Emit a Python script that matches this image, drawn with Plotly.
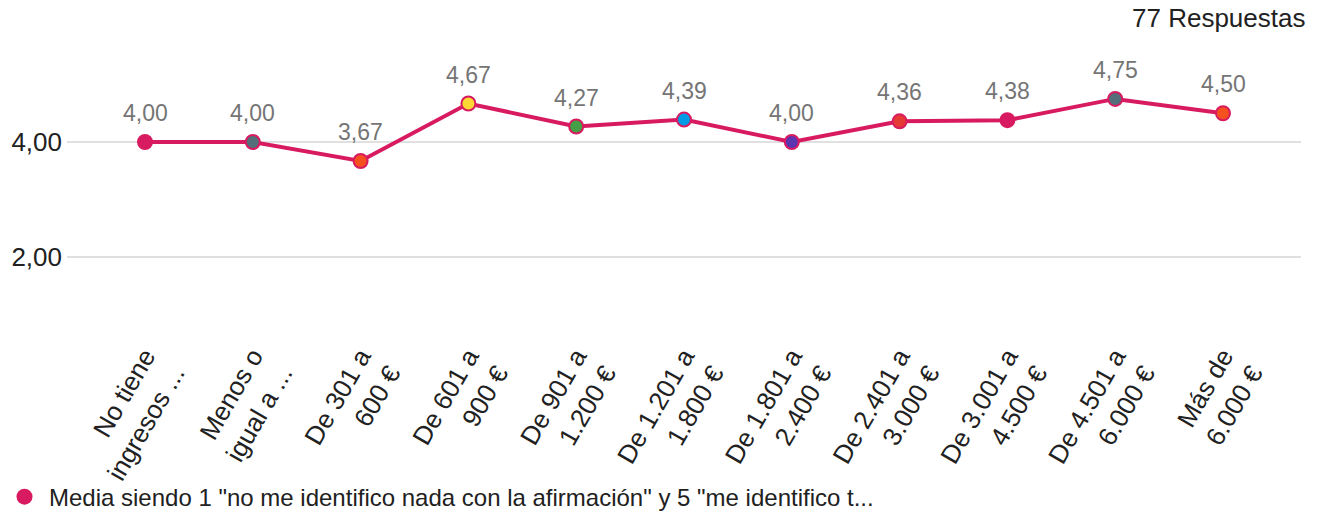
import plotly.graph_objects as go

categories = [
    "No tiene<br>ingresos ...", "Menos o<br>igual a ...", "De 301 a<br>600 €",
    "De 601 a<br>900 €", "De 901 a<br>1.200 €", "De 1.201 a<br>1.800 €",
    "De 1.801 a<br>2.400 €", "De 2.401 a<br>3.000 €", "De 3.001 a<br>4.500 €",
    "De 4.501 a<br>6.000 €", "Más de<br>6.000 €",
]
values = [4.00, 4.00, 3.67, 4.67, 4.27, 4.39, 4.00, 4.36, 4.38, 4.75, 4.50]
point_colors = [
    "#D81B60", "#546E7A", "#F4511E", "#FDD835", "#43A047", "#039BE5",
    "#5E35B1", "#E53935", "#D81B60", "#546E7A", "#F4511E",
]
series_name = 'Media siendo 1 "no me identifico nada con la afirmación" y 5 "me identifico t...'
y_ticks = [2, 4]
y_tick_labels = ["2,00", "4,00"]
total_label = "77 Respuestas"

LINE = "#D81B60"
FONT = "Liberation Sans, Arial, sans-serif"

x_idx = list(range(len(categories)))

fig = go.Figure()
fig.add_trace(go.Scatter(
    x=x_idx, y=values, mode="lines+markers", name=series_name,
    line=dict(color=LINE, width=4),
    marker=dict(size=14, color=point_colors, line=dict(color=LINE, width=2)),
    showlegend=False, hoverinfo="skip",
))
# legend entry with a plain crimson dot
fig.add_trace(go.Scatter(
    x=[None], y=[None], mode="markers", name=series_name,
    marker=dict(size=19, color=LINE), showlegend=True,
))

for xi, v in zip(x_idx, values):
    fig.add_annotation(
        x=xi, y=v, text=f"{v:.2f}".replace(".", ","), showarrow=False,
        yshift=29, font=dict(family=FONT, size=23, color="#757575"),
    )

fig.add_annotation(
    xref="paper", yref="paper", x=1.005, y=1.0, yshift=24,
    text=total_label, showarrow=False, xanchor="right", yanchor="middle",
    font=dict(family=FONT, size=26, color="#212121"),
)

fig.update_layout(
    width=1324, height=513,
    margin=dict(l=67, r=23, t=42, b=178),
    paper_bgcolor="white", plot_bgcolor="white",
    font=dict(family=FONT, color="#212121"),
    xaxis=dict(
        range=[-0.7236, 10.7236], tickmode="array", tickvals=x_idx,
        ticktext=categories, tickangle=-60, showgrid=False, zeroline=False,
        showline=False, ticks="", automargin=False,
        tickfont=dict(family=FONT, size=26, color="#212121"),
    ),
    yaxis=dict(
        range=[0.643, 5.74], tickmode="array", tickvals=y_ticks, ticktext=y_tick_labels,
        showgrid=True, gridcolor="#E0E0E0", gridwidth=1.5, zeroline=False,
        showline=False, ticks="", automargin=False, ticklabelstandoff=4,
        tickfont=dict(family=FONT, size=26, color="#212121"),
    ),
    legend=dict(
        orientation="h", x=0, xref="container", xanchor="left",
        y=0.031, yref="container", yanchor="middle", itemwidth=39,
        bgcolor="rgba(0,0,0,0)",
        font=dict(family=FONT, size=24, color="#212121"), itemsizing="trace",
    ),
)

fig.write_html("out.html")
